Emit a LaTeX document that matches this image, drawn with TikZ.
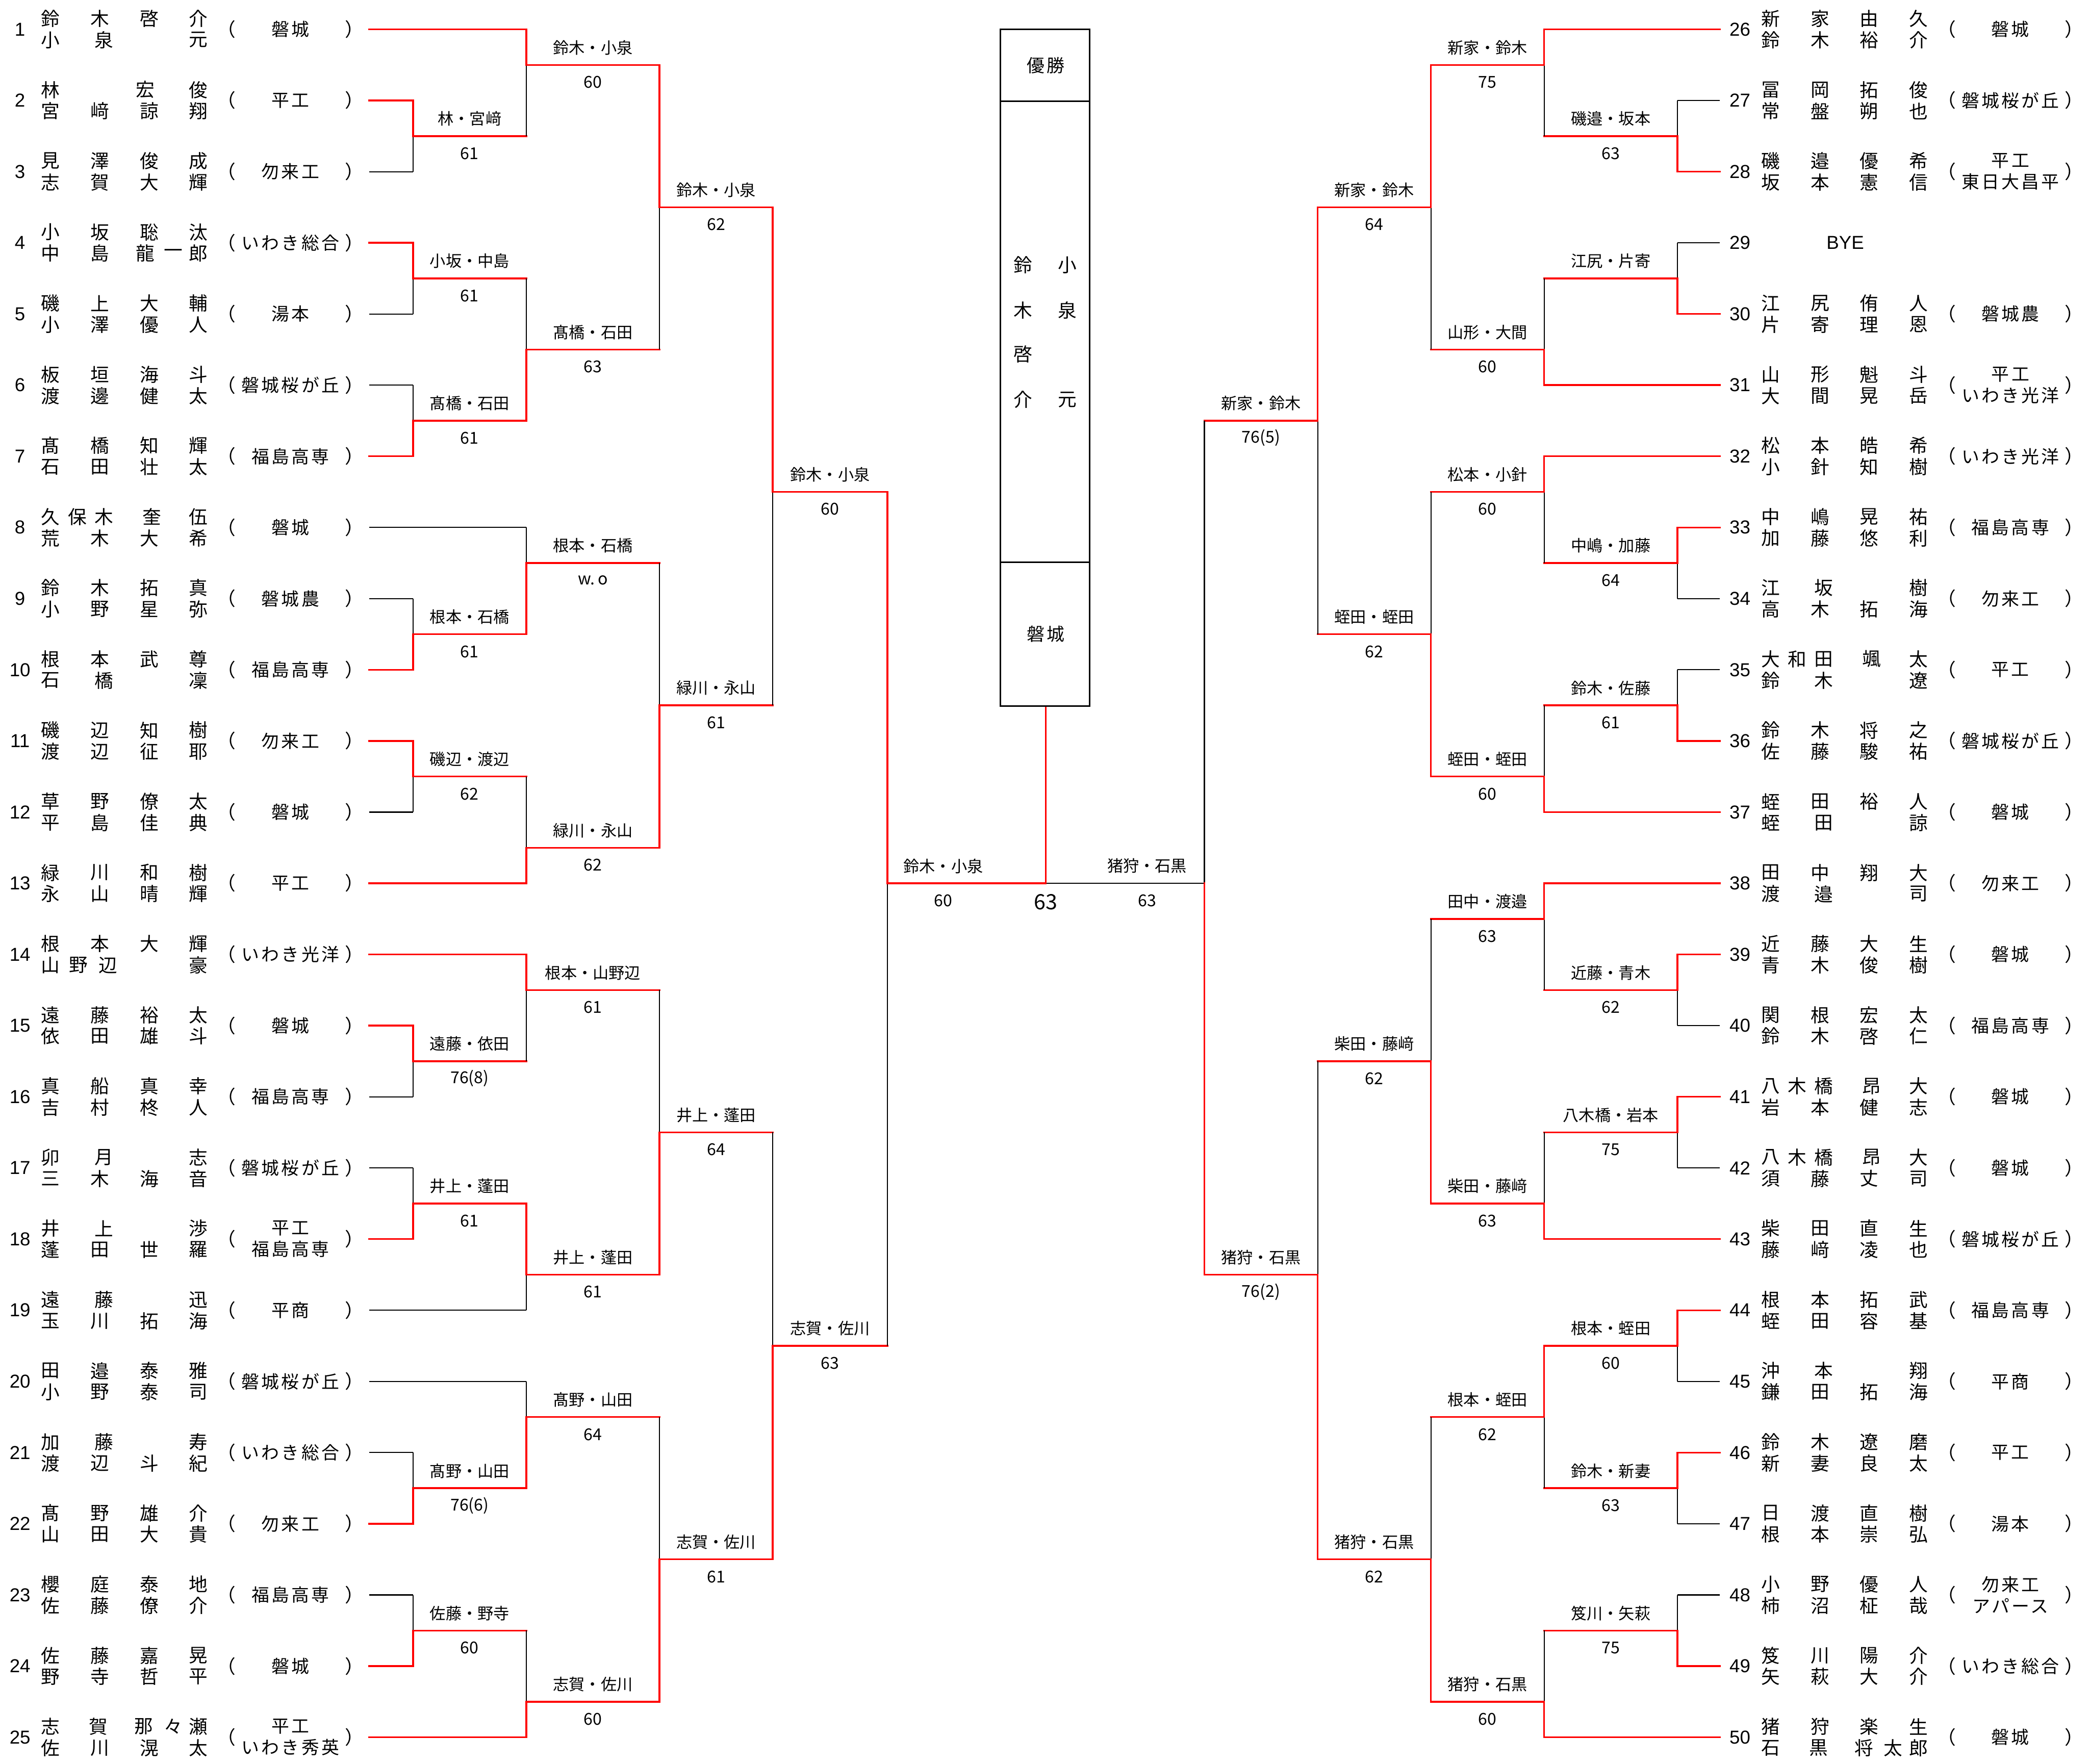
\documentclass[tikz,border=0pt]{standalone}
\usepackage{fontspec}
\setmainfont{Noto Sans CJK JP}
\newfontfamily\cjk{Noto Sans CJK JP}
\newfontfamily\cjks[LetterSpace=12]{Noto Sans CJK JP}
\newfontfamily\numf{Liberation Sans}

% y of half-row k
\newcommand{\yk}[1]{(22+26.71*(#1))}
% four characters on the name grid
\newcommand{\four}[4]{38/#1,75/#2,112/#3,149/#4}
% one line of a name, list of x/char
\newcommand{\chline}[4]{%
  \edef\chlist{#4}%
  \foreach \cx/\cc [count=\ci] in \chlist {\node[nm] (#1\ci) at ({\cx+#2},{#3}) {\cc};}}
% one pair: number, two name lines, school
\newcommand{\pentry}[6]{%
  \node[num] (n#1) at ({#2+15},{\yk{#3}}) {#1};
  \chline{u#1-}{#2}{\yk{#3}-8}{#4}
  \chline{d#1-}{#2}{\yk{#3}+8}{#5}
  \node[nm] (o#1) at ({#2+170},{\yk{#3}}) {（};
  \node[sch] (s#1) at ({#2+218},{\yk{#3}}) {#6};
  \node[nm] (c#1) at ({#2+266},{\yk{#3}}) {）};
}
% one match: name, x, x next, k top, k out, k bottom, winner t/b, label, score
\newcommand{\bmatch}[9]{%
  \draw[top #7] (#2,{\yk{#4}}) -- (#2,{\yk{#5}});
  \draw[bot #7] (#2,{\yk{#6}}) -- (#2,{\yk{#5}});
  \coordinate (#1) at (#2,{\yk{#5}});
  \draw[win] (#1) -- (#3,{\yk{#5}});
  \node[lab] (#1l) at ({(#2+#3)/2},{\yk{#5}-13}) {#8};
  \node[scr] (#1s) at ({(#2+#3)/2},{\yk{#5}+13}) {#9};
}

\tikzset{
  win/.style={draw=red, line width=0.75pt, line cap=rect},
  lose/.style={draw=black, line width=0.45pt},
  top t/.style={win}, top b/.style={lose},
  bot t/.style={lose}, bot b/.style={win},
  nm/.style={font=\cjk\fontsize{8}{8}\selectfont, inner sep=0pt},
  num/.style={font=\numf\fontsize{8}{8}\selectfont, inner sep=0pt},
  sch/.style={font=\cjks\fontsize{7.6}{9.1}\selectfont, inner sep=0pt, align=center},
  lab/.style={font=\cjk\fontsize{6.8}{7}\selectfont, inner sep=0pt},
  scr/.style={font=\cjk\fontsize{7}{7}\selectfont, inner sep=0pt},
}

\begin{document}
\begin{tikzpicture}[x=0.2mm, y=-0.2mm]
  \useasboundingbox (0,0) rectangle (1568,1324);

  % Left pairs
  \pentry{1}{0}{0}{\four 鈴木啓介}{38/小,78/泉,149/元}{磐城}
  \pentry{2}{0}{2}{38/林,109/宏,149/俊}{\four 宮﨑諒翔}{平工}
  \pentry{3}{0}{4}{\four 見澤俊成}{\four 志賀大輝}{勿来工}
  \pentry{4}{0}{6}{\four 小坂聡汰}{38/中,75/島,109/龍,130/一,149/郎}{いわき総合}
  \pentry{5}{0}{8}{\four 磯上大輔}{\four 小澤優人}{湯本}
  \pentry{6}{0}{10}{\four 板垣海斗}{\four 渡邊健太}{磐城桜が丘}
  \pentry{7}{0}{12}{\four 髙橋知輝}{\four 石田壮太}{福島高専}
  \pentry{8}{0}{14}{38/久,58/保,78/木,114/奎,149/伍}{\four 荒木大希}{磐城}
  \pentry{9}{0}{16}{\four 鈴木拓真}{\four 小野星弥}{磐城農}
  \pentry{10}{0}{18}{\four 根本武尊}{38/石,78/橋,149/凜}{福島高専}
  \pentry{11}{0}{20}{\four 磯辺知樹}{\four 渡辺征耶}{勿来工}
  \pentry{12}{0}{22}{\four 草野僚太}{\four 平島佳典}{磐城}
  \pentry{13}{0}{24}{\four 緑川和樹}{\four 永山晴輝}{平工}
  \pentry{14}{0}{26}{\four 根本大輝}{38/山,59/野,81/辺,149/豪}{いわき光洋}
  \pentry{15}{0}{28}{\four 遠藤裕太}{\four 依田雄斗}{磐城}
  \pentry{16}{0}{30}{\four 真船真幸}{\four 吉村柊人}{福島高専}
  \pentry{17}{0}{32}{38/卯,78/月,149/志}{\four 三木海音}{磐城桜が丘}
  \pentry{18}{0}{34}{38/井,78/上,149/渉}{\four 蓬田世羅}{平工\\福島高専}
  \pentry{19}{0}{36}{38/遠,78/藤,149/迅}{\four 玉川拓海}{平商}
  \pentry{20}{0}{38}{\four 田邉泰雅}{\four 小野泰司}{磐城桜が丘}
  \pentry{21}{0}{40}{38/加,78/藤,149/寿}{\four 渡辺斗紀}{いわき総合}
  \pentry{22}{0}{42}{\four 髙野雄介}{\four 山田大貴}{勿来工}
  \pentry{23}{0}{44}{\four 櫻庭泰地}{\four 佐藤僚介}{福島高専}
  \pentry{24}{0}{46}{\four 佐藤嘉晃}{\four 野寺哲平}{磐城}
  \pentry{25}{0}{48}{38/志,74/賀,108/那,130/々,149/瀬}{\four 佐川滉太}{平工\\いわき秀英}

  % Right pairs
  \pentry{26}{1291}{0}{\four 新家由久}{\four 鈴木裕介}{磐城}
  \pentry{27}{1291}{2}{\four 冨岡拓俊}{\four 常盤朔也}{磐城桜が丘}
  \pentry{28}{1291}{4}{\four 磯邉優希}{\four 坂本憲信}{平工\\東日大昌平}
  \node[num] (n29) at (1306,{\yk{6}}) {29};
  \node[num] (bye) at (1385,{\yk{6}}) {BYE};
  \pentry{30}{1291}{8}{\four 江尻侑人}{\four 片寄理恩}{磐城農}
  \pentry{31}{1291}{10}{\four 山形魁斗}{\four 大間晃岳}{平工\\いわき光洋}
  \pentry{32}{1291}{12}{\four 松本皓希}{\four 小針知樹}{いわき光洋}
  \pentry{33}{1291}{14}{\four 中嶋晃祐}{\four 加藤悠利}{福島高専}
  \pentry{34}{1291}{16}{38/江,78/坂,149/樹}{\four 高木拓海}{勿来工}
  \pentry{35}{1291}{18}{38/大,58/和,78/田,114/颯,149/太}{38/鈴,78/木,149/遼}{平工}
  \pentry{36}{1291}{20}{\four 鈴木将之}{\four 佐藤駿祐}{磐城桜が丘}
  \pentry{37}{1291}{22}{\four 蛭田裕人}{38/蛭,78/田,149/諒}{磐城}
  \pentry{38}{1291}{24}{\four 田中翔大}{38/渡,78/邉,149/司}{勿来工}
  \pentry{39}{1291}{26}{\four 近藤大生}{\four 青木俊樹}{磐城}
  \pentry{40}{1291}{28}{\four 関根宏太}{\four 鈴木啓仁}{福島高専}
  \pentry{41}{1291}{30}{38/八,58/木,78/橋,114/昂,149/大}{\four 岩本健志}{磐城}
  \pentry{42}{1291}{32}{38/八,58/木,78/橋,114/昂,149/大}{\four 須藤丈司}{磐城}
  \pentry{43}{1291}{34}{\four 柴田直生}{\four 藤﨑凌也}{磐城桜が丘}
  \pentry{44}{1291}{36}{\four 根本拓武}{\four 蛭田容基}{福島高専}
  \pentry{45}{1291}{38}{38/沖,78/本,149/翔}{\four 鎌田拓海}{平商}
  \pentry{46}{1291}{40}{\four 鈴木遼磨}{\four 新妻良太}{平工}
  \pentry{47}{1291}{42}{\four 日渡直樹}{\four 根本崇弘}{湯本}
  \pentry{48}{1291}{44}{\four 小野優人}{\four 柿沼柾哉}{勿来工\\アパース}
  \pentry{49}{1291}{46}{\four 笈川陽介}{\four 矢萩大介}{いわき総合}
  \pentry{50}{1291}{48}{38/猪,75/狩,112/楽,149/生}{38/石,74/黒,108/将,130/太,149/郎}{磐城}

  % Leaf lines
  \foreach \rw/\xe/\st in {1/395/win, 2/310/win, 3/310/lose, 4/310/win, 5/310/lose,
      6/310/lose, 7/310/win, 8/395/lose, 9/310/lose, 10/310/win, 11/310/win,
      12/310/lose, 13/395/win, 14/395/win, 15/310/win, 16/310/lose, 17/310/lose,
      18/310/win, 19/395/lose, 20/395/lose, 21/310/lose, 22/310/win, 23/310/lose,
      24/310/win, 25/395/win} {
    \coordinate (p\rw) at (277,{\yk{2*(\rw-1)}});
    \draw[\st] (p\rw) -- (\xe,{\yk{2*(\rw-1)}});
  }
  \foreach \rw/\xe/\st in {26/1159/win, 27/1259/lose, 28/1259/win, 29/1259/lose,
      30/1259/win, 31/1159/win, 32/1159/win, 33/1259/win, 34/1259/lose,
      35/1259/lose, 36/1259/win, 37/1159/win, 38/1159/win, 39/1259/win,
      40/1259/lose, 41/1259/win, 42/1259/lose, 43/1159/win, 44/1259/win,
      45/1259/lose, 46/1259/win, 47/1259/lose, 48/1259/lose, 49/1259/win,
      50/1159/win} {
    \coordinate (p\rw) at (1291,{\yk{2*(\rw-26)}});
    \draw[\st] (p\rw) -- (\xe,{\yk{2*(\rw-26)}});
  }

  % Left rounds
  \bmatch{ml1}{310}{395}{2}{3}{4}{t}{林・宮﨑}{61}
  \bmatch{ml2}{310}{395}{6}{7}{8}{t}{小坂・中島}{61}
  \bmatch{ml3}{310}{395}{10}{11}{12}{b}{髙橋・石田}{61}
  \bmatch{ml4}{310}{395}{16}{17}{18}{b}{根本・石橋}{61}
  \bmatch{ml5}{310}{395}{20}{21}{22}{t}{磯辺・渡辺}{62}
  \bmatch{ml6}{310}{395}{28}{29}{30}{t}{遠藤・依田}{76(8)}
  \bmatch{ml7}{310}{395}{32}{33}{34}{b}{井上・蓬田}{61}
  \bmatch{ml8}{310}{395}{40}{41}{42}{b}{髙野・山田}{76(6)}
  \bmatch{ml9}{310}{395}{44}{45}{46}{b}{佐藤・野寺}{60}
  \bmatch{ml10}{395}{495}{0}{1}{3}{t}{鈴木・小泉}{60}
  \bmatch{ml11}{395}{495}{7}{9}{11}{b}{髙橋・石田}{63}
  \bmatch{ml12}{395}{495}{14}{15}{17}{b}{根本・石橋}{w.\,o}
  \bmatch{ml13}{395}{495}{21}{23}{24}{b}{緑川・永山}{62}
  \bmatch{ml14}{395}{495}{26}{27}{29}{t}{根本・山野辺}{61}
  \bmatch{ml15}{395}{495}{33}{35}{36}{t}{井上・蓬田}{61}
  \bmatch{ml16}{395}{495}{38}{39}{41}{b}{髙野・山田}{64}
  \bmatch{ml17}{395}{495}{45}{47}{48}{b}{志賀・佐川}{60}
  \bmatch{ml18}{495}{580}{1}{5}{9}{t}{鈴木・小泉}{62}
  \bmatch{ml19}{495}{580}{15}{19}{23}{b}{緑川・永山}{61}
  \bmatch{ml20}{495}{580}{27}{31}{35}{b}{井上・蓬田}{64}
  \bmatch{ml21}{495}{580}{39}{43}{47}{b}{志賀・佐川}{61}
  \bmatch{ml22}{580}{666}{5}{13}{19}{t}{鈴木・小泉}{60}
  \bmatch{ml23}{580}{666}{31}{37}{43}{b}{志賀・佐川}{63}

  % Right rounds
  \bmatch{mr1}{1259}{1159}{2}{3}{4}{b}{磯邉・坂本}{63}
  \bmatch{mr2}{1259}{1159}{6}{7}{8}{b}{江尻・片寄}{}
  \bmatch{mr3}{1259}{1159}{14}{15}{16}{t}{中嶋・加藤}{64}
  \bmatch{mr4}{1259}{1159}{18}{19}{20}{b}{鈴木・佐藤}{61}
  \bmatch{mr5}{1259}{1159}{26}{27}{28}{t}{近藤・青木}{62}
  \bmatch{mr6}{1259}{1159}{30}{31}{32}{t}{八木橋・岩本}{75}
  \bmatch{mr7}{1259}{1159}{36}{37}{38}{t}{根本・蛭田}{60}
  \bmatch{mr8}{1259}{1159}{40}{41}{42}{t}{鈴木・新妻}{63}
  \bmatch{mr9}{1259}{1159}{44}{45}{46}{b}{笈川・矢萩}{75}
  \bmatch{mr10}{1159}{1074}{0}{1}{3}{t}{新家・鈴木}{75}
  \bmatch{mr11}{1159}{1074}{7}{9}{10}{b}{山形・大間}{60}
  \bmatch{mr12}{1159}{1074}{12}{13}{15}{t}{松本・小針}{60}
  \bmatch{mr13}{1159}{1074}{19}{21}{22}{b}{蛭田・蛭田}{60}
  \bmatch{mr14}{1159}{1074}{24}{25}{27}{t}{田中・渡邉}{63}
  \bmatch{mr15}{1159}{1074}{31}{33}{34}{b}{柴田・藤﨑}{63}
  \bmatch{mr16}{1159}{1074}{37}{39}{41}{t}{根本・蛭田}{62}
  \bmatch{mr17}{1159}{1074}{45}{47}{48}{b}{猪狩・石黒}{60}
  \bmatch{mr18}{1074}{989}{1}{5}{9}{t}{新家・鈴木}{64}
  \bmatch{mr19}{1074}{989}{13}{17}{21}{b}{蛭田・蛭田}{62}
  \bmatch{mr20}{1074}{989}{25}{29}{33}{b}{柴田・藤﨑}{62}
  \bmatch{mr21}{1074}{989}{39}{43}{47}{b}{猪狩・石黒}{62}
  \bmatch{mr22}{989}{904}{5}{11}{17}{t}{新家・鈴木}{76(5)}
  \bmatch{mr23}{989}{904}{29}{35}{43}{b}{猪狩・石黒}{76(2)}

  % Semifinals and final
  \coordinate (fin) at (785,{\yk{24}});
  \coordinate (boxb) at (785,530);
  \draw[lose] (666,{\yk{37}}) -- (666,{\yk{24}});
  \draw[win] (666,{\yk{13}}) -- (666,{\yk{24}}) -- (fin);
  \draw[lose] (904,{\yk{11}}) -- (904,{\yk{24}}) -- (fin);
  \draw[win] (904,{\yk{35}}) -- (904,{\yk{24}});
  \draw[win] (boxb) -- (fin);
  \node[lab] (sfl) at (708,{\yk{24}-13}) {鈴木・小泉};
  \node[scr] (sfls) at (708,{\yk{24}+13}) {60};
  \node[lab] (sfr) at (861,{\yk{24}-13}) {猪狩・石黒};
  \node[scr] (sfrs) at (861,{\yk{24}+13}) {63};
  \node[scr, font=\cjk\fontsize{9}{9}\selectfont] (fs) at (785,677) {63};

  % Champion box
  \draw[line width=0.6pt] (751,22) rectangle (818,530);
  \draw[line width=0.6pt] (751,76) -- (818,76) (751,422) -- (818,422);
  \node[sch] (champ) at (785,49) {優勝};
  \node[sch] (club) at (785,476) {磐城};
  \foreach \yy/\cc [count=\i] in {199/鈴,233/木,266/啓,300/介}
    \node[nm] (wa\i) at (768,\yy) {\cc};
  \foreach \yy/\cc [count=\i] in {199/小,233/泉,300/元}
    \node[nm] (wb\i) at (801,\yy) {\cc};
\end{tikzpicture}
\end{document}
